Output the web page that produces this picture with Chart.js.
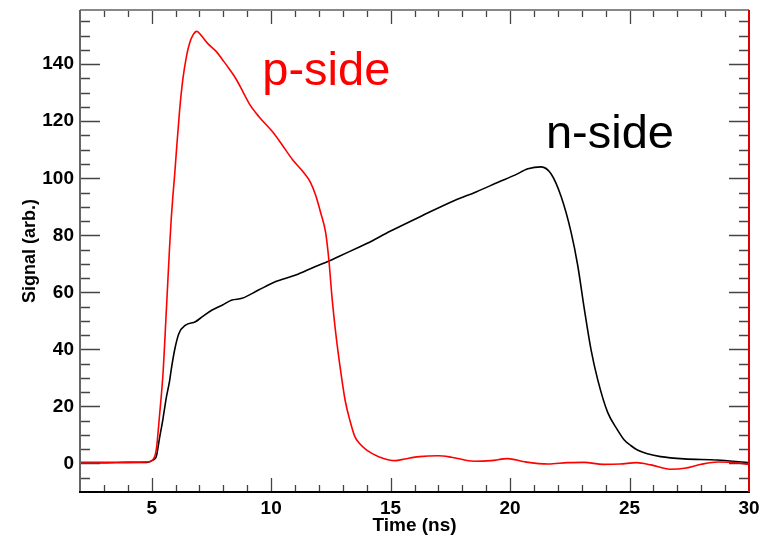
<!DOCTYPE html>
<html><head><meta charset="utf-8">
<script src="https://cdn.jsdelivr.net/npm/chart.js@4.4.0/dist/chart.umd.min.js"></script>
<style>html,body{margin:0;padding:0;background:#fff}#wrap{width:769px;height:539px;position:relative}</style>
</head><body><div id="wrap"><canvas id="c"></canvas></div>
<script>
// p-side (red) signal
const pTime = [2.0, 3.0, 4.0, 4.8, 5.0, 5.19, 5.33, 5.47, 5.61, 5.75, 5.82, 5.89, 5.96, 6.03, 6.17, 6.30, 6.45, 6.58, 6.72, 6.89, 7.07, 7.35, 7.70, 7.97, 8.25, 8.53, 8.81, 9.08, 9.5, 10.06, 10.47, 10.89, 11.3, 11.65, 11.86, 12.07, 12.28, 12.42, 12.55, 12.7, 12.9, 13.1, 13.3, 13.5, 13.7, 14.0, 14.5, 15.2, 15.6, 16.2, 17.0, 17.55, 18.5, 19.2, 19.9, 20.6, 21.6, 22.4, 23.1, 23.9, 24.6, 25.3, 25.9, 26.7, 27.3, 28.0, 28.7, 29.3, 30.0];
const pSignal = [0.3, 0.3, 0.4, 0.5, 1.0, 4.7, 17, 31, 53, 76, 86, 94, 101, 109, 123.9, 134.4, 142.5, 147.2, 150.1, 151.5, 150.1, 147.2, 144.5, 141.5, 138.3, 134.8, 130.5, 126.2, 121.5, 116.3, 111.6, 106.6, 102.6, 98.5, 94.1, 88, 81, 71, 58, 46, 33, 22, 15, 9.5, 7, 4.7, 2.4, 1.0, 1.6, 2.4, 2.7, 2.2, 0.8, 1.0, 1.7, 0.6, -0.2, 0.3, 0.4, -0.3, -0.2, 0.3, -0.5, -2.0, -1.7, -0.3, 0.5, 0.4, -0.3];
// n-side (black) signal
const nTime = [2.0, 3.0, 4.0, 4.8, 5.05, 5.19, 5.33, 5.47, 5.61, 5.75, 5.82, 5.96, 6.14, 6.42, 6.83, 7.11, 7.53, 7.95, 8.36, 8.78, 9.47, 10.17, 11.0, 11.83, 12.42, 12.83, 13.67, 14.0, 15.0, 16.3, 17.7, 18.6, 19.5, 20.2, 20.75, 21.3, 21.72, 22.14, 22.55, 22.83, 23.11, 23.39, 23.67, 24.08, 24.5, 24.78, 25.05, 25.33, 25.75, 26.3, 27.28, 28.67, 29.85, 30.0];
const nSignal = [0.3, 0.3, 0.4, 0.4, 1.2, 2.4, 9, 15.5, 23, 29, 33, 39.8, 45.6, 48.5, 49.7, 51.4, 53.8, 55.5, 57.3, 57.9, 60.8, 63.7, 66.0, 69.0, 71, 72.6, 75.8, 77.1, 81.5, 86.8, 92.3, 95.3, 98.6, 101.1, 103.3, 104, 101.5, 93.5, 81.2, 69.5, 54, 39.8, 29.3, 18, 11.7, 8.2, 6.3, 4.7, 3.4, 2.4, 1.6, 1.2, 0.4, 0.3];
const xTickLabels = [5, 10, 15, 20, 25, 30];
const yTickLabels = [0, 20, 40, 60, 80, 100, 120, 140];
const xRange = [2, 30];
const yRange = [-10, 159];
const seriesNames = ['p-side', 'n-side'];

const FONT = '"Liberation Sans", Arial, Helvetica, sans-serif';

const pts = (ts, vs) => ts.map((t, i) => ({x: t, y: vs[i]}));

const framePlugin = {
  id: 'frame',
  afterDraw(chart) {
    const {ctx, chartArea: {left, right, top, bottom}, scales: {x, y}} = chart;
    ctx.save();
    ctx.lineWidth = 1.3;
    ctx.strokeStyle = '#444';
    for (let v = -5; v <= yRange[1]; v += 5) {
      const py = Math.round(y.getPixelForValue(v)) + 0.5;
      const major = v % 20 === 0;
      const len = major ? 20 : 10;
      ctx.beginPath();
      ctx.moveTo(left, py); ctx.lineTo(left + len, py);
      ctx.moveTo(right, py); ctx.lineTo(right - len, py);
      ctx.stroke();
    }
    for (let t = xRange[0] + 1; t < xRange[1]; t += 1) {
      const px = Math.round(x.getPixelForValue(t)) + 0.5;
      const major = t % 5 === 0;
      const len = major ? 14 : 7;
      ctx.beginPath();
      ctx.moveTo(px, bottom); ctx.lineTo(px, bottom - len);
      ctx.moveTo(px, top); ctx.lineTo(px, top + len);
      ctx.stroke();
    }
    ctx.lineWidth = 2;
    ctx.strokeStyle = '#888';
    ctx.beginPath(); ctx.moveTo(left, top); ctx.lineTo(right, top); ctx.stroke();
    ctx.strokeStyle = '#666';
    ctx.beginPath(); ctx.moveTo(left, top); ctx.lineTo(left, bottom); ctx.stroke();
    ctx.strokeStyle = '#000';
    ctx.beginPath(); ctx.moveTo(left - 1, bottom); ctx.lineTo(right + 1, bottom); ctx.stroke();
    ctx.strokeStyle = '#e00000';
    ctx.beginPath(); ctx.moveTo(right, top); ctx.lineTo(right, bottom); ctx.stroke();
    ctx.font = '47px ' + FONT;
    ctx.textBaseline = 'alphabetic';
    ctx.textAlign = 'left';
    ctx.fillStyle = '#ff0000';
    ctx.fillText(seriesNames[0], x.getPixelForValue(9.63), y.getPixelForValue(132.6));
    ctx.fillStyle = '#000';
    ctx.fillText(seriesNames[1], x.getPixelForValue(21.5), y.getPixelForValue(110.5));
    ctx.restore();
  }
};

new Chart(document.getElementById('c'), {
  type: 'line',
  data: {
    datasets: [
      {label: seriesNames[0], data: pts(pTime, pSignal), borderColor: '#ff0000', borderWidth: 1.6, pointRadius: 0, cubicInterpolationMode: 'monotone', fill: false},
      {label: seriesNames[1], data: pts(nTime, nSignal), borderColor: '#000000', borderWidth: 1.6, pointRadius: 0, cubicInterpolationMode: 'monotone', fill: false}
    ]
  },
  options: {
    responsive: true,
    maintainAspectRatio: false,
    animation: false,
    layout: {padding: {top: 10, right: 20, left: 0, bottom: 0}},
    plugins: {legend: {display: false}, tooltip: {enabled: false}},
    scales: {
      x: {
        type: 'linear', min: xRange[0], max: xRange[1],
        grid: {display: false, drawTicks: false},
        border: {display: false},
        afterBuildTicks: s => { s.ticks = xTickLabels.map(v => ({value: v})); },
        afterFit: s => { s.height = 47; s.paddingLeft = 0; s.paddingRight = 0; },
        ticks: {color: '#000', padding: 5, maxRotation: 0, autoSkip: false, font: {family: FONT, size: 19, weight: 'bold'}},
        title: {display: true, text: 'Time (ns)', color: '#000', padding: {top: 0, bottom: 2}, font: {family: FONT, size: 19, weight: 'bold'}}
      },
      y: {
        type: 'linear', min: yRange[0], max: yRange[1],
        grid: {display: false, drawTicks: false},
        border: {display: false},
        afterBuildTicks: s => { s.ticks = yTickLabels.map(v => ({value: v})); },
        afterFit: s => { s.width = 80; s.paddingTop = 0; s.paddingBottom = 0; },
        ticks: {color: '#000', padding: 6, autoSkip: false, font: {family: FONT, size: 19, weight: 'bold'}},
        title: {display: true, text: 'Signal (arb.)', color: '#000', padding: {top: 19, bottom: 0}, font: {family: FONT, size: 18, weight: 'bold'}}
      }
    }
  },
  plugins: [framePlugin]
});
</script></body></html>
